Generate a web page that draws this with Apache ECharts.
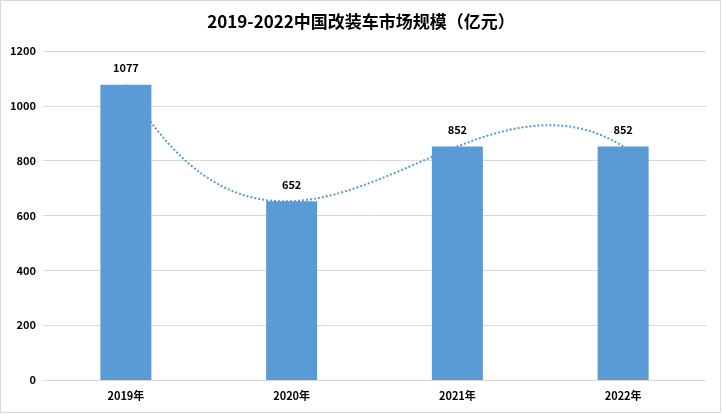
<!DOCTYPE html>
<html><head><meta charset="utf-8">
<script src="https://cdn.jsdelivr.net/npm/echarts@6/dist/echarts.min.js"></script>
<style>html,body{margin:0;padding:0;background:#fff}#c{width:722px;height:414px}</style>
</head><body><div id="c"></div>
<script>
var categories = ['2019年', '2020年', '2021年', '2022年'];
var values = [1077, 652, 852, 852];
var yTicks = [0, 200, 400, 600, 800, 1000, 1200];
var titleText = '2019-2022中国改装车市场规模（亿元）';

var chart = echarts.init(document.getElementById('c'), null, {renderer: 'canvas'});
var font = '"Noto Sans CJK SC", "Liberation Sans", sans-serif';

// Polynomial (cubic) trendline through the four data points, expressed as one Bezier
function trendRender(params, api) {
  var v = values;
  var b1 = (-5 * v[0] + 18 * v[1] - 9 * v[2] + 2 * v[3]) / 6;
  var b2 = (2 * v[0] - 9 * v[1] + 18 * v[2] - 5 * v[3]) / 6;
  var p0 = api.coord([0, v[0]]), c1 = api.coord([1, b1]), c2 = api.coord([2, b2]), p3 = api.coord([3, v[3]]);
  return {type: 'bezierCurve',
    shape: {x1: p0[0], y1: p0[1], cpx1: c1[0], cpy1: c1[1], cpx2: c2[0], cpy2: c2[1], x2: p3[0], y2: p3[1]},
    style: {stroke: '#5B9BD5', lineWidth: 2, lineDash: [2, 2], fill: null}, silent: true};
}

chart.setOption({
  backgroundColor: '#fff',
  animation: false,
  title: {text: titleText, left: 'center', top: 8,
    textStyle: {fontFamily: font, fontSize: 17, fontWeight: 'bold', color: '#000'}},
  graphic: [{type: 'rect', shape: {x: 0.5, y: 0.5, width: 720, height: 412},
    style: {fill: 'none', stroke: '#d9d9d9', lineWidth: 1}, silent: true}],
  grid: {left: 43, right: 16, top: 51, bottom: 34, containLabel: false},
  xAxis: {type: 'category', data: categories,
    axisLine: {lineStyle: {color: '#d9d9d9'}}, axisTick: {show: false},
    axisLabel: {color: '#000', fontFamily: font, fontSize: 11, fontWeight: 'bold', margin: 10}},
  yAxis: {type: 'value', min: yTicks[0], max: yTicks[yTicks.length - 1], interval: 200,
    axisLine: {show: false}, axisTick: {show: false},
    splitLine: {lineStyle: {color: '#d9d9d9'}},
    axisLabel: {color: '#000', fontFamily: font, fontSize: 11, fontWeight: 'bold', margin: 7,
      formatter: function (val) { return String(val); }}},
  series: [
    {type: 'custom', data: [0], renderItem: trendRender, z: 1, clip: false},
    {type: 'bar', data: values, barWidth: 51, z: 2,
      itemStyle: {color: '#5B9BD5'},
      label: {show: true, position: 'top', distance: 11, color: '#000', fontFamily: font,
        fontSize: 11, fontWeight: 'bold'}}
  ]
});
</script></body></html>
